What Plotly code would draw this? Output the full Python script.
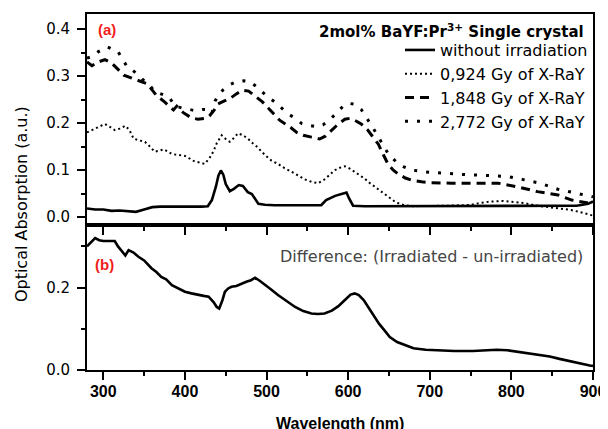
import plotly.graph_objects as go

# ---- data ----
wl_none = [280, 290, 300, 310, 320, 330, 340, 350, 360, 370, 380, 390, 400, 410, 420, 428, 433, 438, 441, 444,
           447, 450, 455, 460, 466, 471, 477, 482, 486, 490, 498, 510, 530, 550, 567, 573, 584, 594, 598, 601,
           606, 620, 650, 700, 750, 800, 850, 880, 894, 900]
ab_none = [0.018, 0.016, 0.016, 0.013, 0.014, 0.012, 0.011, 0.016, 0.021, 0.022, 0.022, 0.021, 0.021, 0.021, 0.022,
           0.023, 0.036, 0.065, 0.088, 0.099, 0.090, 0.070, 0.055, 0.060, 0.068, 0.066, 0.053, 0.049, 0.038, 0.028,
           0.026, 0.025, 0.025, 0.025, 0.025, 0.036, 0.045, 0.050, 0.052, 0.040, 0.024, 0.023, 0.023, 0.023, 0.024,
           0.024, 0.024, 0.024, 0.028, 0.033]

wl_0924 = [280, 287, 294, 302, 308, 314, 320, 327, 332, 337, 344, 351, 357, 363, 368, 374, 380, 384, 392, 400,
           406, 412, 418, 424, 430, 435, 439, 445, 450, 455, 460, 465, 471, 477, 483, 488, 498, 506, 514, 522,
           531, 539, 547, 555, 563, 571, 577, 584, 590, 596, 602, 608, 614, 620, 626, 633, 639, 645, 651, 657,
           663, 669, 680, 700, 720, 740, 751, 759, 767, 775, 790, 800, 815, 828, 841, 857, 873, 885, 894, 900]
ab_0924 = [0.180, 0.186, 0.192, 0.198, 0.192, 0.185, 0.188, 0.194, 0.185, 0.167, 0.163, 0.160, 0.150, 0.139, 0.141,
           0.144, 0.138, 0.134, 0.132, 0.130, 0.124, 0.118, 0.116, 0.113, 0.125, 0.140, 0.157, 0.174, 0.166, 0.160,
           0.168, 0.178, 0.174, 0.167, 0.157, 0.150, 0.132, 0.120, 0.113, 0.104, 0.096, 0.088, 0.080, 0.075, 0.072,
           0.080, 0.090, 0.100, 0.105, 0.108, 0.103, 0.096, 0.089, 0.082, 0.073, 0.064, 0.055, 0.047, 0.040, 0.033,
           0.028, 0.025, 0.023, 0.023, 0.024, 0.025, 0.026, 0.029, 0.031, 0.033, 0.034, 0.033, 0.030, 0.025, 0.022,
           0.018, 0.015, 0.010, 0.005, 0.003]

wl_1848 = [280, 286, 294, 302, 310, 318, 325, 334, 343, 353, 360, 365, 375, 386, 390, 398, 408, 416, 424, 430,
           436, 440, 447, 455, 463, 470, 478, 486, 495, 502, 510, 516, 523, 530, 537, 545, 555, 565, 572, 580,
           588, 596, 602, 608, 616, 624, 630, 637, 643, 649, 655, 661, 670, 677, 690, 700, 726, 755, 784, 808,
           832, 857, 874, 894, 900]
ab_1848 = [0.330, 0.322, 0.330, 0.335, 0.328, 0.315, 0.302, 0.296, 0.291, 0.284, 0.270, 0.259, 0.245, 0.228, 0.236,
           0.222, 0.211, 0.208, 0.210, 0.215, 0.228, 0.240, 0.246, 0.252, 0.262, 0.270, 0.268, 0.258, 0.245, 0.232,
           0.218, 0.206, 0.198, 0.190, 0.180, 0.174, 0.170, 0.166, 0.172, 0.186, 0.198, 0.208, 0.210, 0.206, 0.198,
           0.185, 0.170, 0.155, 0.133, 0.112, 0.100, 0.092, 0.083, 0.079, 0.075, 0.073, 0.072, 0.072, 0.072, 0.064,
           0.054, 0.047, 0.036, 0.030, 0.030]

wl_2772 = [280, 287, 294, 305, 318, 329, 336, 343, 351, 357, 363, 372, 380, 388, 396, 408, 415, 422, 428, 433,
           437, 442, 447, 455, 463, 472, 480, 487, 494, 502, 510, 518, 526, 535, 543, 552, 561, 569, 577, 586,
           594, 600, 608, 616, 622, 627, 632, 637, 643, 649, 655, 661, 669, 678, 694, 710, 727, 745, 763, 780,
           796, 816, 835, 857, 870, 882, 894, 900]
ab_2772 = [0.338, 0.342, 0.352, 0.362, 0.352, 0.320, 0.312, 0.302, 0.288, 0.280, 0.267, 0.262, 0.256, 0.236, 0.232,
           0.228, 0.226, 0.229, 0.228, 0.220, 0.247, 0.262, 0.271, 0.282, 0.288, 0.290, 0.288, 0.278, 0.267, 0.255,
           0.245, 0.232, 0.220, 0.210, 0.199, 0.195, 0.192, 0.196, 0.206, 0.222, 0.236, 0.242, 0.240, 0.229, 0.214,
           0.199, 0.185, 0.171, 0.152, 0.135, 0.124, 0.114, 0.106, 0.100, 0.096, 0.094, 0.091, 0.090, 0.089, 0.088,
           0.086, 0.079, 0.072, 0.059, 0.054, 0.050, 0.045, 0.043]

wl_diff = [280, 284, 290, 295, 300, 306, 314, 318, 323, 327, 331, 337, 343, 350, 359, 365, 371, 377, 384, 392,
           400, 408, 416, 423, 429, 435, 439, 442, 446, 449, 453, 457, 463, 469, 476, 481, 486, 492, 498, 506,
           514, 524, 535, 545, 555, 563, 571, 580, 588, 596, 603, 608, 613, 619, 625, 631, 638, 645, 651, 660,
           670, 680, 695, 712, 730, 753, 770, 782, 795, 806, 820, 835, 847, 859, 870, 884, 896, 900]
ab_diff = [0.300, 0.308, 0.320, 0.315, 0.313, 0.313, 0.313, 0.300, 0.288, 0.278, 0.291, 0.285, 0.275, 0.266, 0.247,
           0.238, 0.226, 0.220, 0.206, 0.198, 0.190, 0.186, 0.182, 0.180, 0.178, 0.165, 0.153, 0.149, 0.170, 0.190,
           0.198, 0.202, 0.204, 0.210, 0.215, 0.218, 0.224, 0.216, 0.206, 0.195, 0.182, 0.168, 0.153, 0.143, 0.137,
           0.136, 0.137, 0.144, 0.155, 0.170, 0.183, 0.186, 0.182, 0.170, 0.152, 0.133, 0.112, 0.095, 0.080, 0.068,
           0.060, 0.053, 0.049, 0.047, 0.046, 0.046, 0.048, 0.049, 0.048, 0.045, 0.042, 0.038, 0.033, 0.027, 0.022,
           0.015, 0.011, 0.010]

names = ["without irradiation", "0,924 Gy of X-RaY", "1,848 Gy of X-RaY", "2,772 Gy of X-RaY"]
x_ticks = [300, 400, 500, 600, 700, 800, 900]

# ---- figure ----
fig = go.Figure()
fig.add_trace(go.Scatter(x=wl_none, y=ab_none, name=names[0], mode="lines",
                         line=dict(color="black", width=2.6), xaxis="x2", yaxis="y2"))
fig.add_trace(go.Scatter(x=wl_0924, y=ab_0924, name=names[1], mode="lines",
                         line=dict(color="black", width=2, dash="2px,3px"), xaxis="x2", yaxis="y2"))
fig.add_trace(go.Scatter(x=wl_1848, y=ab_1848, name=names[2], mode="lines",
                         line=dict(color="black", width=3, dash="9px,6px"), xaxis="x2", yaxis="y2"))
fig.add_trace(go.Scatter(x=wl_2772, y=ab_2772, name=names[3], mode="lines",
                         line=dict(color="black", width=3, dash="3px,9px"), xaxis="x2", yaxis="y2"))
fig.add_trace(go.Scatter(x=wl_diff, y=ab_diff, mode="lines", showlegend=False,
                         line=dict(color="black", width=2.6), xaxis="x", yaxis="y"))

split = 0.4073
axis_common = dict(showline=True, linecolor="black", linewidth=2, mirror=True, automargin=False,
                   ticks="outside", tickcolor="black", tickwidth=1.5, showgrid=False, zeroline=False)

fig.update_layout(
    width=600, height=421,
    margin=dict(l=79, r=15, t=6, b=59, autoexpand=False),
    paper_bgcolor="white", plot_bgcolor="white",
    xaxis=dict(**axis_common, anchor="y", range=[280, 900], tickvals=x_ticks, ticklen=8,
               ticklabelstandoff=-2,
               minor=dict(dtick=50, tick0=300, ticks="outside", ticklen=4, tickcolor="black", tickwidth=1.5),
               tickfont=dict(family="Liberation Sans", size=16, color="black", weight="bold")),
    xaxis2=dict(**axis_common, anchor="y2", matches="x", range=[280, 900], tickvals=x_ticks, ticklen=8,
                showticklabels=False,
                minor=dict(dtick=50, tick0=300, ticks="outside", ticklen=4, tickcolor="black", tickwidth=1.5)),
    yaxis=dict(**axis_common, domain=[0, split], range=[0, 0.352], tickvals=[0.0, 0.2], ticktext=["0.0", "0.2"],
               ticklen=8, ticklabelstandoff=4,
               minor=dict(dtick=0.1, tick0=0, ticks="outside", ticklen=4, tickcolor="black", tickwidth=1.5),
               tickfont=dict(family="DejaVu Sans", size=15, color="black")),
    yaxis2=dict(**axis_common, domain=[split, 1], range=[-0.017, 0.432],
                tickvals=[0.0, 0.1, 0.2, 0.3, 0.4], ticktext=["0.0", "0.1", "0.2", "0.3", "0.4"],
                ticklen=8, ticklabelstandoff=4,
                minor=dict(dtick=0.05, tick0=0, ticks="outside", ticklen=4, tickcolor="black", tickwidth=1.5),
                tickfont=dict(family="DejaVu Sans", size=15, color="black")),
    legend=dict(x=1, xanchor="right", y=0.9465, yanchor="top", bgcolor="rgba(0,0,0,0)", borderwidth=0,
                font=dict(family="DejaVu Sans", size=16, color="black"), tracegroupgap=0),
    showlegend=True,
)

fig.add_annotation(text="<b>Wavelength (nm)</b>", xref="paper", yref="paper", x=0.5, y=-0.1489,
                   xanchor="center", yanchor="middle", showarrow=False,
                   font=dict(family="Liberation Sans", size=16, color="black"))
fig.add_annotation(text="<b>2mol% BaYF:Pr<sup>3+</sup> Single crystal</b>", xref="x2", yref="y2",
                   x=892, y=0.396, xanchor="right", yanchor="middle", showarrow=False,
                   font=dict(family="DejaVu Sans", size=15, color="black"))
fig.add_annotation(text="<b>(a)</b>", xref="x2", yref="y2", x=304.5, y=0.398, showarrow=False,
                   xanchor="center", yanchor="middle",
                   font=dict(family="Liberation Sans", size=15, color="#f01c1c"))
fig.add_annotation(text="<b>(b)</b>", xref="x", yref="y", x=301, y=0.256, showarrow=False,
                   xanchor="center", yanchor="middle",
                   font=dict(family="Liberation Sans", size=15, color="#f01c1c"))
fig.add_annotation(text="Difference: (Irradiated - un-irradiated)", xref="x", yref="y", x=513.8, y=0.275,
                   xanchor="left", yanchor="middle", showarrow=False,
                   font=dict(family="DejaVu Sans", size=16, color="#444444"))
fig.add_annotation(text="Optical Absorption (a.u.)", xref="paper", yref="paper", x=-0.1304, y=0.466,
                   xanchor="center", yanchor="middle", textangle=-90, showarrow=False,
                   font=dict(family="DejaVu Sans", size=16, color="black"))

fig.write_html("out.html")
